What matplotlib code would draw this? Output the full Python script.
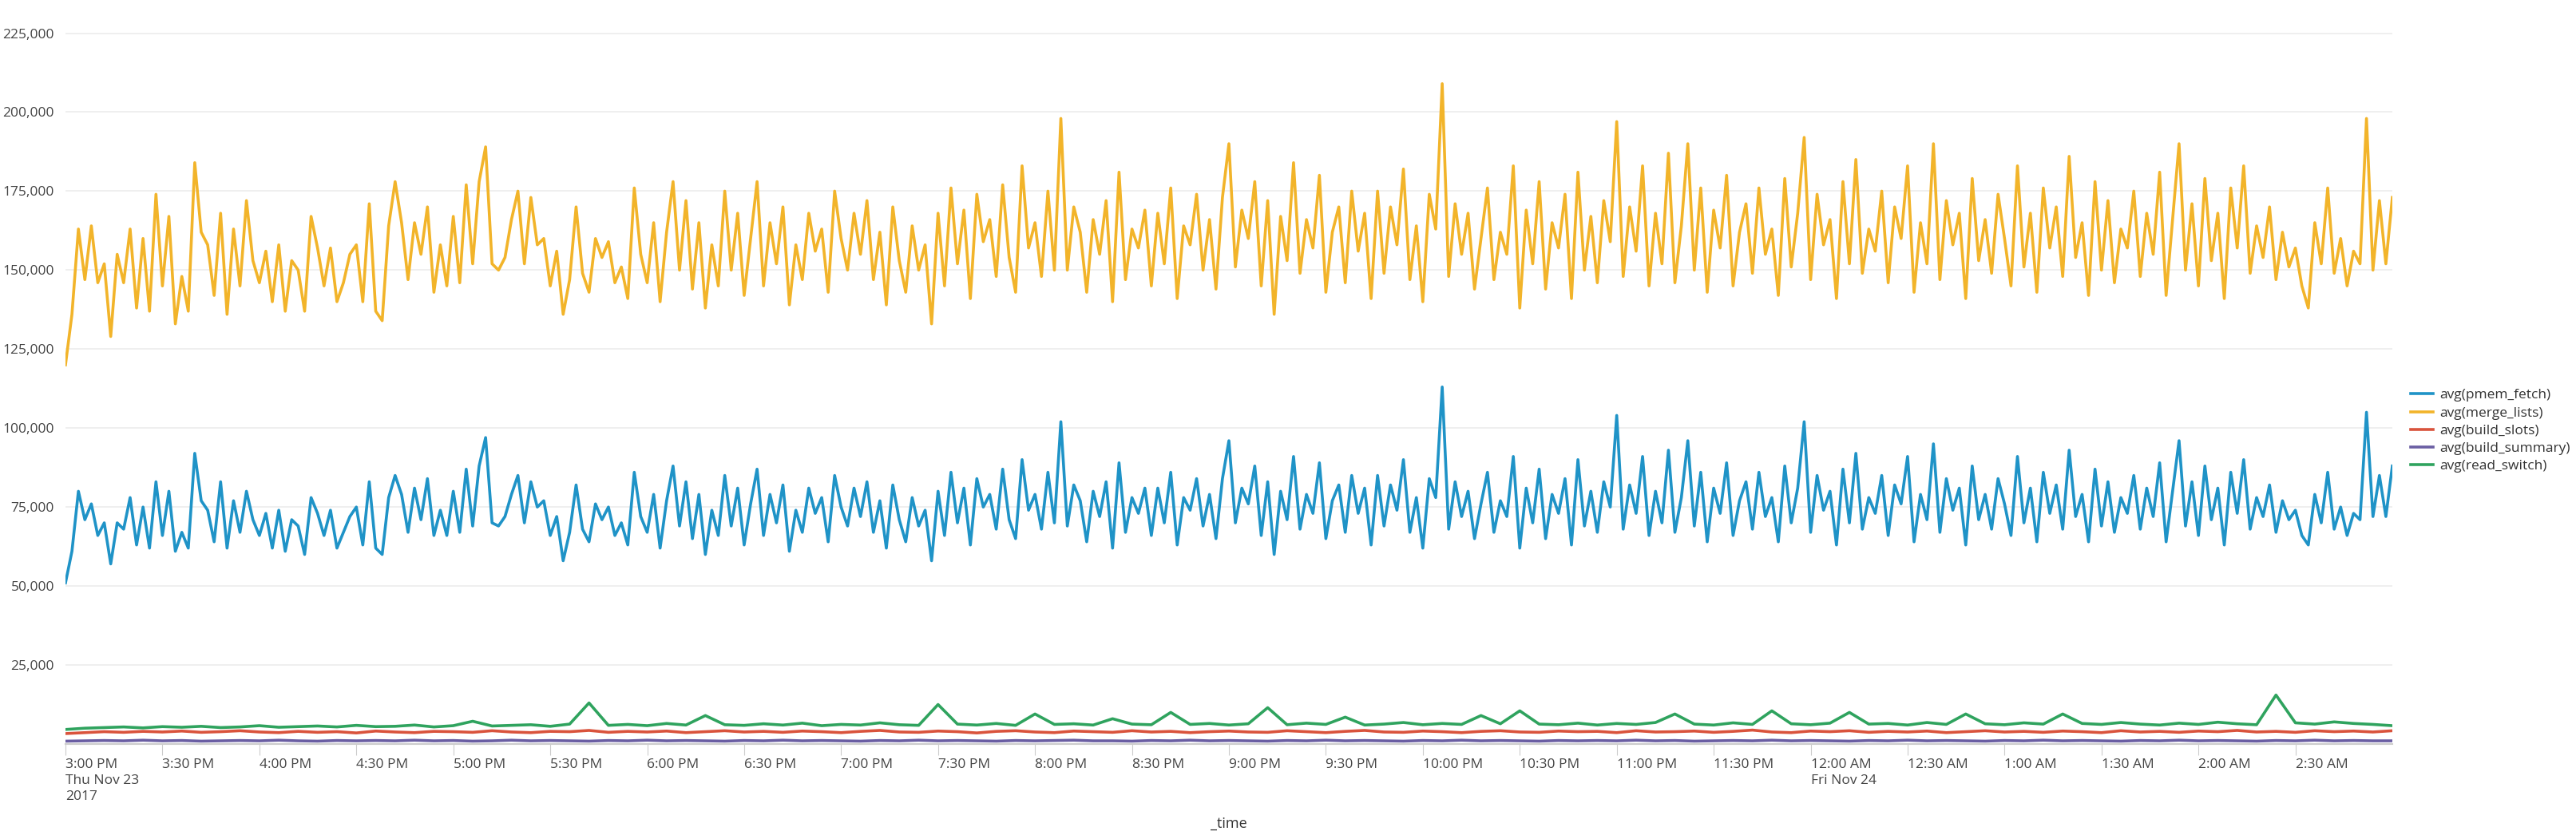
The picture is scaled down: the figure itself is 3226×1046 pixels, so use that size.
import numpy as np
import pandas as pd
import matplotlib
matplotlib.use("Agg")
import matplotlib.pyplot as plt
import matplotlib.dates as mdates
from matplotlib.ticker import FuncFormatter, FixedLocator

# valeurs en milliers, pas de 2 minutes à partir de 15:00
merge_lists = [
    120, 136, 163, 147, 164, 146, 152, 129, 155, 146, 163, 138, 160, 137, 174, 145, 167, 133, 148, 137,
    184, 162, 158, 142, 168, 136, 163, 145, 172, 153, 146, 156, 140, 158, 137, 153, 150, 137, 167, 157,
    145, 157, 140, 146, 155, 158, 140, 171, 137, 134, 164, 178, 165, 147, 165, 155, 170, 143, 158, 145,
    167, 146, 177, 152, 178, 189, 152, 150, 154, 166, 175, 152, 173, 158, 160, 145, 156, 136, 147, 170,
    149, 143, 160, 154, 159, 146, 151, 141, 176, 155, 146, 165, 140, 162, 178, 150, 172, 144, 165, 138,
    158, 145, 175, 150, 168, 142, 160, 178, 145, 165, 152, 170, 139, 158, 147, 168, 156, 163, 143, 175,
    160, 150, 168, 155, 172, 147, 162, 139, 170, 153, 143, 164, 150, 158, 133, 168, 145, 176, 152, 169,
    141, 174, 159, 166, 148, 177, 154, 143, 183, 157, 165, 148, 175, 150, 198, 150, 170, 162, 143, 166,
    155, 172, 140, 181, 147, 163, 157, 169, 145, 168, 152, 176, 141, 164, 158, 174, 150, 166, 144, 173,
    190, 151, 169, 160, 178, 145, 172, 136, 167, 153, 184, 149, 166, 157, 180, 143, 162, 170, 146, 175,
    156, 168, 141, 175, 149, 170, 158, 182, 147, 164, 140, 174, 163, 209, 148, 171, 155, 168, 144, 160,
    176, 147, 162, 155, 183, 138, 169, 152, 178, 144, 165, 157, 174, 141, 181, 150, 167, 146, 172, 159,
    197, 148, 170, 156, 183, 145, 168, 152, 187, 146, 164, 190, 150, 176, 143, 169, 157, 180, 145, 162,
    171, 149, 176, 155, 163, 142, 179, 151, 168, 192, 147, 174, 158, 166, 141, 178, 152, 185, 149, 163,
    156, 175, 146, 170, 160, 183, 143, 165, 152, 190, 147, 172, 158, 168, 141, 179, 153, 166, 149, 174,
    160, 145, 183, 151, 168, 143, 176, 157, 170, 148, 186, 154, 165, 142, 178, 150, 172, 146, 163, 157,
    175, 148, 168, 155, 181, 142, 166, 190, 150, 171, 145, 179, 153, 168, 141, 176, 157, 183, 149, 164,
    154, 170, 147, 162, 151, 157, 145, 138, 165, 152, 176, 149, 160, 145, 156, 152, 198, 150, 172, 152,
    173,
]

pmem_fetch = [
    51, 61, 80, 71, 76, 66, 70, 57, 70, 68, 78, 63, 75, 62, 83, 66, 80, 61, 67, 62,
    92, 77, 74, 64, 83, 62, 77, 67, 80, 71, 66, 73, 62, 74, 61, 71, 69, 60, 78, 73,
    66, 74, 62, 67, 72, 75, 63, 83, 62, 60, 78, 85, 79, 67, 81, 71, 84, 66, 74, 66,
    80, 67, 87, 69, 88, 97, 70, 69, 72, 79, 85, 70, 83, 75, 77, 66, 72, 58, 67, 82,
    68, 64, 76, 71, 75, 66, 70, 63, 86, 72, 67, 79, 62, 77, 88, 69, 83, 65, 79, 60,
    74, 66, 85, 69, 81, 63, 76, 87, 66, 79, 70, 82, 61, 74, 67, 81, 73, 78, 64, 85,
    75, 69, 81, 72, 83, 67, 77, 62, 82, 71, 64, 78, 69, 74, 58, 80, 66, 86, 70, 81,
    63, 84, 75, 79, 68, 87, 71, 65, 90, 74, 79, 68, 86, 70, 102, 69, 82, 77, 64, 80,
    72, 83, 62, 89, 67, 78, 73, 81, 66, 81, 70, 86, 63, 78, 74, 84, 69, 79, 65, 84,
    96, 70, 81, 76, 88, 66, 83, 60, 80, 71, 91, 68, 79, 73, 89, 65, 77, 82, 67, 85,
    73, 81, 63, 85, 69, 82, 74, 90, 67, 78, 62, 84, 78, 113, 68, 83, 72, 80, 65, 76,
    86, 67, 77, 72, 91, 62, 81, 70, 87, 65, 79, 73, 84, 63, 90, 69, 80, 67, 83, 75,
    104, 68, 82, 73, 91, 66, 80, 70, 93, 67, 78, 96, 69, 86, 64, 81, 73, 89, 66, 77,
    83, 68, 86, 72, 78, 64, 88, 70, 81, 102, 67, 85, 74, 80, 63, 87, 70, 92, 68, 78,
    73, 85, 66, 82, 76, 91, 64, 79, 71, 95, 67, 84, 74, 81, 63, 88, 71, 79, 68, 84,
    76, 66, 91, 70, 81, 64, 86, 73, 82, 68, 93, 72, 79, 64, 87, 69, 83, 67, 78, 73,
    85, 68, 81, 72, 89, 64, 80, 96, 69, 83, 66, 88, 71, 81, 63, 86, 73, 90, 68, 78,
    72, 82, 67, 77, 71, 74, 66, 63, 79, 70, 86, 68, 75, 66, 73, 71, 105, 72, 85, 72,
    88,
]

# séries faibles, pas de 6 minutes
read_switch = [
    4.6, 5.0, 5.2, 5.4, 5.1, 5.5, 5.3, 5.6, 5.2, 5.4, 5.8, 5.3, 5.5, 5.7, 5.4, 5.9, 5.5, 5.6, 6.0, 5.4,
    5.8, 7.2, 5.7, 5.9, 6.1, 5.6, 6.3, 13.0, 5.9, 6.2, 5.8, 6.5, 6.0, 9.0, 6.1, 5.9, 6.4, 6.0, 6.6, 5.8,
    6.2, 6.0, 6.7, 6.1, 5.9, 12.5, 6.3, 6.0, 6.5, 5.9, 9.5, 6.2, 6.4, 6.0, 8.0, 6.3, 6.1, 10.0, 6.2, 6.5,
    6.0, 6.4, 11.5, 6.1, 6.6, 6.2, 8.5, 6.0, 6.3, 6.8, 6.1, 6.5, 6.2, 9.0, 6.4, 10.5, 6.3, 6.1, 6.6, 6.0,
    6.5, 6.2, 6.8, 9.5, 6.3, 6.0, 6.7, 6.2, 10.5, 6.4, 6.1, 6.6, 10.0, 6.3, 6.5, 6.0, 6.8, 6.2, 9.5, 6.4,
    6.1, 6.7, 6.3, 9.5, 6.5, 6.2, 6.8, 6.3, 6.0, 6.6, 6.2, 6.9, 6.4, 6.1, 15.5, 6.7, 6.3, 7.0, 6.5, 6.2,
    5.8,
]

build_slots = [
    3.3, 3.6, 3.9, 3.7, 4.0, 3.8, 4.1, 3.7, 3.9, 4.2, 3.8, 3.6, 4.0, 3.7, 3.9, 3.5, 4.1, 3.8, 3.6, 4.0,
    3.9, 3.7, 4.2, 3.8, 3.6, 4.0, 3.9, 4.3, 3.7, 4.0, 3.8, 4.1, 3.6, 3.9, 4.2, 3.8, 4.0, 3.7, 4.1, 3.9,
    3.6, 4.0, 4.3, 3.8, 3.7, 4.1, 3.9, 3.5, 4.0, 4.2, 3.8, 3.6, 4.1, 3.9, 3.7, 4.2, 3.8, 4.0, 3.6, 3.9,
    4.1, 3.8, 3.7, 4.2, 3.9, 3.6, 4.0, 4.3, 3.8, 3.7, 4.1, 3.9, 3.6, 4.0, 4.2, 3.8, 3.7, 4.1, 3.9, 4.0,
    3.6, 4.2, 3.8, 3.9, 4.1, 3.7, 4.0, 4.4, 3.8, 3.6, 4.1, 3.9, 4.2, 3.7, 4.0, 3.8, 4.1, 3.6, 3.9, 4.2,
    3.8, 4.0, 3.7, 4.1, 3.9, 3.6, 4.2, 3.8, 4.0, 3.7, 4.1, 3.9, 4.3, 3.8, 4.0, 3.7, 4.2, 3.9, 4.1, 3.8,
    4.2,
]

build_summary = [
    0.9, 1.0, 1.1, 1.0, 1.2, 1.0, 1.1, 0.9, 1.0, 1.1, 1.0, 1.2, 1.0, 0.9, 1.1, 1.0, 1.1, 1.0, 1.2, 1.0,
    1.1, 0.9, 1.0, 1.2, 1.0, 1.1, 1.0, 0.9, 1.1, 1.0, 1.2, 1.0, 1.1, 1.0, 0.9, 1.1, 1.0, 1.2, 1.0, 1.1,
    1.0, 0.9, 1.1, 1.0, 1.2, 1.0, 1.1, 1.0, 0.9, 1.1, 1.0, 1.1, 1.2, 1.0, 1.0, 0.9, 1.1, 1.0, 1.2, 1.0,
    1.1, 1.0, 0.9, 1.1, 1.0, 1.2, 1.0, 1.1, 1.0, 0.9, 1.1, 1.0, 1.2, 1.0, 1.1, 1.0, 0.9, 1.1, 1.0, 1.1,
    1.0, 1.2, 1.0, 1.1, 0.9, 1.0, 1.1, 1.0, 1.2, 1.0, 1.1, 1.0, 0.9, 1.1, 1.0, 1.2, 1.0, 1.1, 1.0, 0.9,
    1.1, 1.0, 1.2, 1.0, 1.1, 1.0, 0.9, 1.1, 1.0, 1.2, 1.0, 1.1, 1.0, 0.9, 1.1, 1.0, 1.2, 1.0, 1.1, 1.0,
    1.0,
]

DEBUT = pd.Timestamp("2017-11-23 15:00")
FIN = pd.Timestamp("2017-11-24 03:00")
DERNIER_TICK = pd.Timestamp("2017-11-24 02:30")

COULEURS = {
    "avg(pmem_fetch)": "#1f93c7",
    "avg(merge_lists)": "#f2b42a",
    "avg(build_slots)": "#d9533c",
    "avg(build_summary)": "#6a5ea3",
    "avg(read_switch)": "#2fa35e",
}


def temps(n, pas_minutes):
    return pd.date_range(DEBUT, periods=n, freq=f"{pas_minutes}min")


def etiquette(x, pos):
    d = mdates.num2date(x)
    h = d.hour % 12 or 12
    txt = f"{h}:{d.minute:02d} {'AM' if d.hour < 12 else 'PM'}"
    if d.hour == 15 and d.minute == 0:
        txt += "\nThu Nov 23\n2017"
    elif d.hour == 0 and d.minute == 0:
        txt += "\nFri Nov 24"
    return txt


def main():
    plt.rcParams["font.family"] = ["Open Sans", "DejaVu Sans"]
    fig = plt.figure(figsize=(32.26, 10.46), dpi=100)
    ax = fig.add_axes([82 / 3226, 1 - 932 / 1046, (2996 - 82) / 3226, 932 / 1046])

    series = [
        ("avg(pmem_fetch)", pmem_fetch, 2),
        ("avg(merge_lists)", merge_lists, 2),
        ("avg(build_slots)", build_slots, 6),
        ("avg(build_summary)", build_summary, 6),
        ("avg(read_switch)", read_switch, 6),
    ]
    for nom, vals, pas in series:
        ax.plot(temps(len(vals), pas), np.array(vals) * 1000, color=COULEURS[nom],
                lw=2.6, label=nom)

    ax.set_xlim(DEBUT, FIN)
    ax.set_ylim(0, 235500)
    ax.set_yticks(range(25000, 225001, 25000))
    ax.yaxis.set_major_formatter(FuncFormatter(lambda v, p: f"{int(v):,}"))
    ax.grid(axis="y", color="#ececec", lw=1.2)
    ax.set_axisbelow(True)
    for s in ["top", "right", "left"]:
        ax.spines[s].set_visible(False)
    ax.spines["bottom"].set_color("#cccccc")
    ax.spines["bottom"].set_linewidth(1.5)
    ax.tick_params(axis="y", length=0, labelsize=12.5, labelcolor="#444444", pad=10)
    ax.tick_params(axis="x", length=10, color="#cccccc", labelsize=12.5, labelcolor="#444444", pad=3)

    ticks = pd.date_range(DEBUT, DERNIER_TICK, freq="30min")
    ax.xaxis.set_major_locator(FixedLocator(mdates.date2num(ticks.to_pydatetime())))
    ax.xaxis.set_major_formatter(FuncFormatter(etiquette))
    for lab in ax.get_xticklabels():
        lab.set_horizontalalignment("left")
        lab.set_verticalalignment("top")
        lab.set_linespacing(1.35)
    ax.set_xlabel("_time", fontsize=13, color="#333333", labelpad=12)

    fig.legend(loc="center left", bbox_to_anchor=(0.931, 0.484), frameon=False,
               fontsize=12.5, handlelength=1.6, handletextpad=0.5, labelspacing=0.35,
               labelcolor="#333333")

    fig.savefig("out.png", dpi=100)
    plt.close(fig)


if __name__ == "__main__":
    main()
